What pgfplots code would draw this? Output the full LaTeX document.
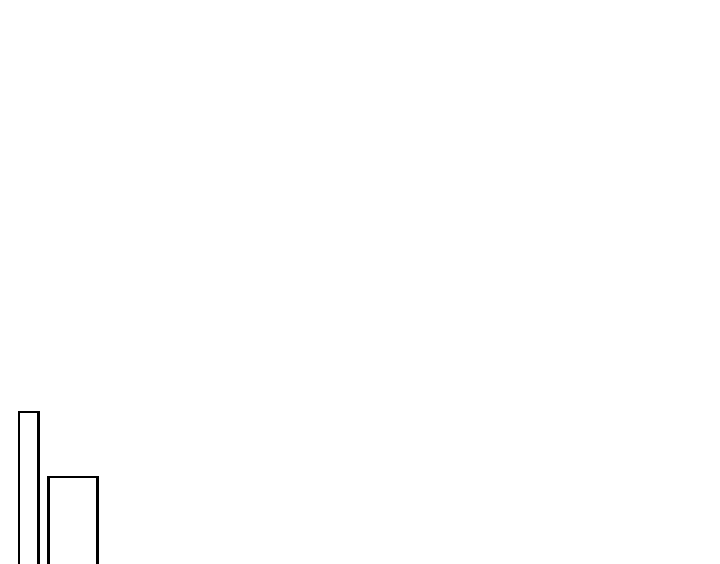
\documentclass[border=0pt]{standalone}
\usepackage{pgfplots}
\pgfplotsset{compat=1.18}

\begin{document}
\begin{tikzpicture}
  \begin{axis}[
    width=7.2cm, height=5.76cm,
    scale only axis,
    hide axis,
    xmin=0, xmax=720,
    ymin=-10, ymax=566,
    ]
    % tall narrow bar
    \addplot[ybar, bar width=19.5, draw=black, fill=white, line width=0.7pt]
      coordinates {(28.7,154)};
    % shorter wide bar
    \addplot[ybar, bar width=49.2, draw=black, fill=white, line width=0.7pt]
      coordinates {(73,89)};
    % visible part of the page: bar bases fall just below it
    \coordinate (bl) at (axis cs:0,3);
    \coordinate (tr) at (axis cs:720,566);
  \end{axis}
  \pgfresetboundingbox
  \path (bl) rectangle (tr);
\end{tikzpicture}
\end{document}
